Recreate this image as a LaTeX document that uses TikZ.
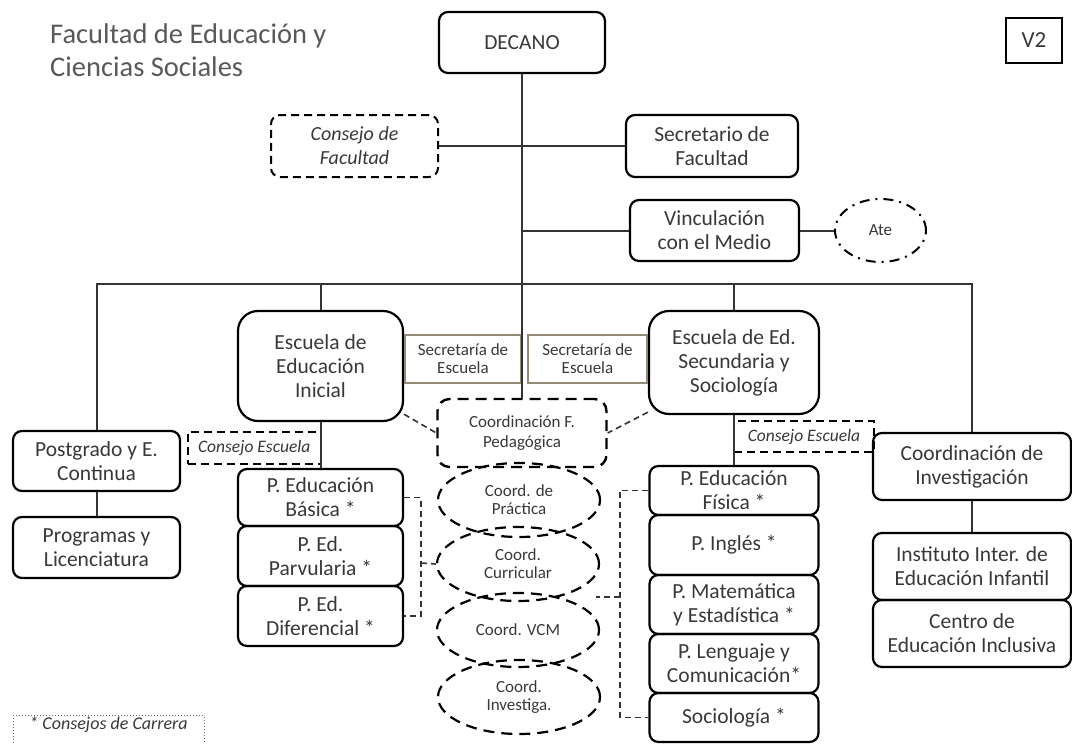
\documentclass[tikz,border=0pt]{standalone}
\usepackage{fontspec}
\setmainfont{Carlito}
\usetikzlibrary{shapes.geometric}
\definecolor{txt}{HTML}{383838}
\definecolor{tit}{HTML}{595959}
\definecolor{secb}{HTML}{948A78}
\definecolor{lin}{HTML}{333333}

\begin{document}
\begin{tikzpicture}[x=1pt,y=-1pt,
    caja/.style={draw, line width=2.2pt, rounded corners=9pt, align=center, text=txt, inner sep=1pt, font=\fontsize{21.5}{24}\selectfont},
    escuela/.style={caja, rounded corners=20pt},
    consejo/.style={draw, line width=2pt, dash pattern=on 8pt off 5pt, align=center, text=txt, inner sep=1pt, font=\itshape\fontsize{17.5}{20}\selectfont},
    coord/.style={ellipse, draw, line width=2.2pt, dash pattern=on 11pt off 7pt, align=center, text=txt, inner sep=0pt, minimum width=162pt, minimum height=74pt, font=\fontsize{17}{18}\selectfont},
    secre/.style={draw=secb, line width=1.2pt, align=center, text=txt, inner sep=0pt, minimum height=48pt, font=\fontsize{17}{18}\selectfont},
    linea/.style={draw=lin, line width=2pt},
    guion/.style={draw=lin, line width=1.6pt, dash pattern=on 6pt off 4pt}
  ]
  \useasboundingbox (0,0) rectangle (1072,744);

  % Titulo
  \node[anchor=west, align=left, inner sep=0pt, text=tit, font=\fontsize{28.5}{33}\selectfont] (titulo) at (50,50.5) {Facultad de Educación y\\Ciencias Sociales};
  \node[draw, line width=2pt, minimum width=56pt, minimum height=45pt, text=txt, font=\fontsize{23}{24}\selectfont] (version) at (1034,40.5) {V2};

  % Decano
  \node[caja, minimum width=166pt, minimum height=61pt] (decano) at (522,42.5) {DECANO};
  \node[consejo, rounded corners=9pt, minimum width=167pt, minimum height=62pt, font=\itshape\fontsize{20}{24}\selectfont] (cfacultad) at (354.5,146) {Consejo de\\Facultad};
  \node[caja, minimum width=172pt, minimum height=62pt] (secfacultad) at (712,146) {Secretario de\\Facultad};
  \node[caja, minimum width=169pt, minimum height=61pt] (vcm) at (714.5,230.5) {Vinculación\\con el Medio};
  \node[ellipse, draw, line width=2pt, dash pattern=on 10pt off 6pt on 2pt off 6pt, minimum width=91pt, minimum height=63pt, text=txt, font=\fontsize{17}{18}\selectfont] (ate) at (880.5,230.5) {Ate};

  % Escuelas
  \node[escuela, minimum width=165pt, minimum height=110pt] (einicial) at (320.5,366) {Escuela de\\Educación\\Inicial};
  \node[escuela, minimum width=170pt, minimum height=103pt] (esecundaria) at (734,362.5) {Escuela de Ed.\\Secundaria y\\Sociología};
  \node[secre, minimum width=116pt] (secinicial) at (463,359) {Secretaría de\\Escuela};
  \node[secre, minimum width=119pt] (secsecundaria) at (587.5,359) {Secretaría de\\Escuela};
  \node[consejo, line width=2.4pt, dash pattern=on 11pt off 7pt, rounded corners=12pt, minimum width=169pt, minimum height=68pt, font=\fontsize{17}{20}\selectfont] (cfp) at (522,433) {Coordinación F.\\Pedagógica};
  \node[consejo, minimum width=132.5pt, minimum height=32pt] (cescI) at (254.25,448) {Consejo Escuela};
  \node[consejo, minimum width=140pt, minimum height=31pt] (cescS) at (804,436.5) {Consejo Escuela};

  % Postgrado
  \node[caja, minimum width=167pt, minimum height=60pt] (postgrado) at (96.5,461) {Postgrado y E.\\Continua};
  \node[caja, minimum width=167pt, minimum height=61pt] (programas) at (96.5,547.5) {Programas y\\Licenciatura};

  % Carreras
  \node[caja, minimum width=165pt, minimum height=57pt] (pbasica) at (320.5,497.5) {P. Educación\\Básica *};
  \node[caja, minimum width=165pt, minimum height=60pt] (pparvularia) at (320.5,556) {P. Ed.\\Parvularia *};
  \node[caja, minimum width=165pt, minimum height=60pt] (pdiferencial) at (320.5,616) {P. Ed.\\Diferencial *};
  \node[caja, minimum width=169pt, minimum height=49pt] (pfisica) at (734,490.5) {P. Educación\\Física *};
  \node[caja, minimum width=169pt, minimum height=60pt] (pingles) at (734,545) {P. Inglés *};
  \node[caja, minimum width=169pt, minimum height=59pt] (pmatematica) at (734,604.5) {P. Matemática\\y Estadística *};
  \node[caja, minimum width=169pt, minimum height=59pt] (plenguaje) at (734,663.5) {P. Lenguaje y\\Comunicación*};
  \node[caja, minimum width=169pt, minimum height=49pt] (psociologia) at (734,717.5) {Sociología *};

  % Coordinaciones
  \node[coord] (cpractica) at (519,500) {Coord. de\\Práctica};
  \node[coord] (ccurricular) at (518,564) {Coord.\\Curricular};
  \node[coord] (cvcm) at (518,630) {Coord. VCM};
  \node[coord] (cinvestiga) at (519,697) {Coord.\\Investiga.};

  % Investigacion
  \node[caja, minimum width=198pt, minimum height=67pt] (cinvestigacion) at (972,466.5) {Coordinación de\\Investigación};
  \node[caja, minimum width=198pt, minimum height=67pt] (instituto) at (972,566.5) {Instituto Inter. de\\Educación Infantil};
  \node[caja, minimum width=198pt, minimum height=67pt] (centro) at (972,633.5) {Centro de\\Educación Inclusiva};

  \node[draw=black!60, line width=1pt, dotted, anchor=north, minimum width=191pt, inner ysep=2pt, text height=12pt, text depth=20pt, text=txt, font=\itshape\fontsize{18}{20}\selectfont] (leyenda) at (108.5,715) {* Consejos de Carrera};

  % Lineas
  \coordinate (barra) at (0,284);
  \draw[linea] (decano.south) -- (decano.south |- cfp.north);
  \draw[linea] (cfacultad.east) -- (secfacultad.west);
  \draw[linea] (vcm.west) -- (vcm.west -| decano.south);
  \draw[linea] (vcm.east) -- (ate.west);
  \draw[linea] (postgrado.north) -- (postgrado.north |- barra) -- (cinvestigacion.north |- barra) -- (cinvestigacion.north);
  \foreach \n in {einicial,esecundaria}
    \draw[linea] (\n.north) -- (\n.north |- barra);
  \draw[linea] (einicial.south) -- (pbasica.north);
  \draw[linea] (esecundaria.south) -- (pfisica.north);
  \draw[linea] (postgrado.south) -- (programas.north);
  \draw[linea] (cinvestigacion.south) -- (instituto.north);

  % Lineas punteadas
  \draw[guion] (einicial.-30) -- (cfp.west);
  \draw[guion] (esecundaria.210) -- (cfp.east);
  \coordinate (llaveI) at (421,563);
  \draw[guion] (pbasica.east) -| (llaveI) |- (pdiferencial.east);
  \draw[guion] (llaveI) -- (ccurricular.west);
  \coordinate (llaveS) at (620,597);
  \coordinate (llaveSfin) at (596,597);
  \draw[guion] (pfisica.west) -| (llaveS) |- (psociologia.west);
  \draw[guion] (llaveS) -- (llaveSfin);
\end{tikzpicture}
\end{document}
